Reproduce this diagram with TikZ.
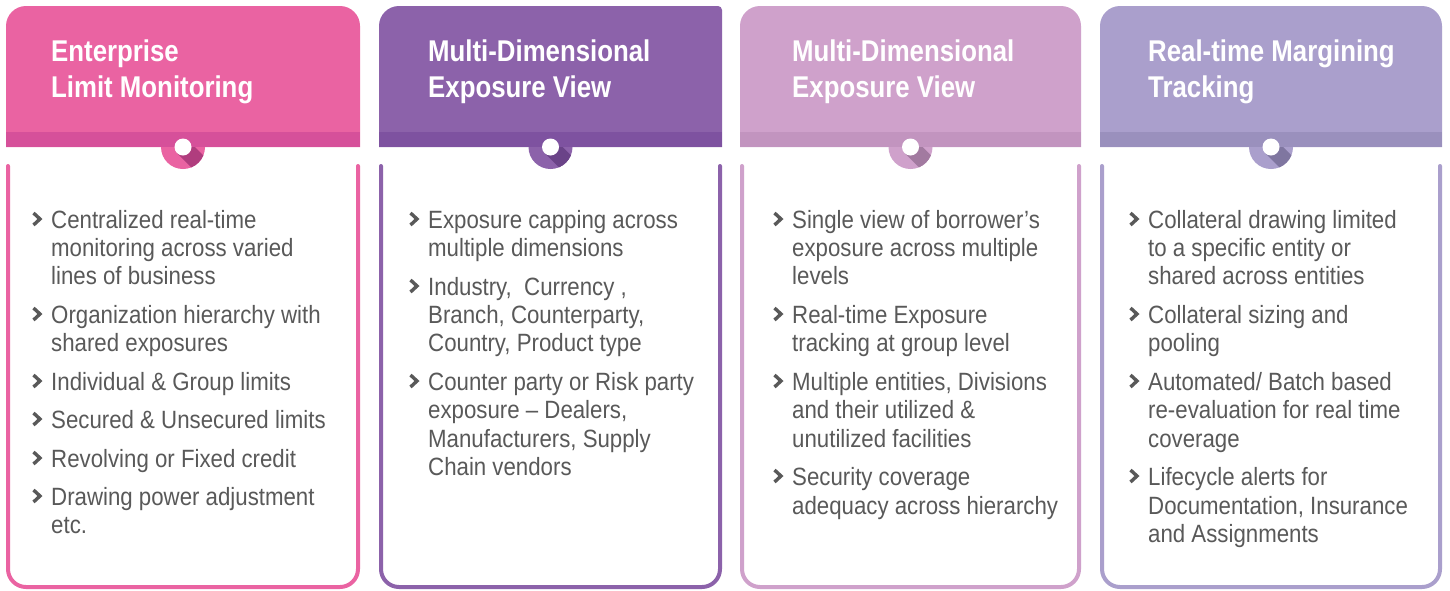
\documentclass[tikz,border=0pt]{standalone}
\usepackage{fontspec}
\setmainfont[FakeStretch=0.89]{Liberation Sans}
\newfontfamily\titlefont[FakeStretch=0.86]{Liberation Sans}
\definecolor{txtgray}{HTML}{595959}
\definecolor{hA}{HTML}{EA63A2}\definecolor{bA}{HTML}{D6509A}\definecolor{sA}{HTML}{B03D7E}
\definecolor{hB}{HTML}{8C62AA}\definecolor{bB}{HTML}{7E52A0}\definecolor{sB}{HTML}{6A4388}
\definecolor{hC}{HTML}{CFA1CB}\definecolor{bC}{HTML}{C294BF}\definecolor{sC}{HTML}{A27AA0}
\definecolor{hD}{HTML}{AA9FCC}\definecolor{bD}{HTML}{9A90BD}\definecolor{sD}{HTML}{7F76A0}
\newcommand\bodyfont{\fontsize{25}{28}\selectfont}
\newcommand\headfont{\titlefont\bfseries\fontsize{30}{36}\selectfont}
% card: left, right, header colour, band colour, shadow colour, top-left radius, top-right radius
\newcommand\mkcard[7]{%
  \pgfmathsetmacro\cx{(#1+#2)/2}%
  \fill[#3] (#1,147) -- (#1,6+#6) arc[start angle=180,end angle=270,radius=#6]
     -- (#2-#7,6) arc[start angle=270,end angle=360,radius=#7] -- (#2,147) -- cycle;
  \fill[#3] (\cx,147) circle[radius=22];
  \begin{scope}
    \clip (\cx,147) circle[radius=22];
    \fill[#5] (\cx+6,141) -- (\cx+46,181) -- (\cx+34,193) -- (\cx-6,153) -- cycle;
  \end{scope}
  \fill[#4] (#1,132) rectangle (#2,147);
  \fill[white] (\cx,147) circle[radius=8.5];
  \draw[#3, line width=4pt, line cap=round, rounded corners=18pt]
     (#1+2,166) -- (#1+2,587) -- (#2-2,587) -- (#2-2,166);
}
\tikzset{
  body/.style={anchor=base west, inner sep=0pt, font=\bodyfont, text=txtgray},
  head/.style={anchor=base west, inner sep=0pt, font=\headfont, text=white},
  bullet/.style={draw=txtgray, line width=3.4pt, line join=miter, line cap=butt},
}
\newcommand\bul[2]{\draw[bullet] (#1-17.5,#2-15) -- ++(6.5,6) -- ++(-6.5,6);}
\begin{document}
\begin{tikzpicture}[x=1pt,y=-1pt]
\useasboundingbox (0,0) rectangle (1450,590);
\fill[white] (0,0) rectangle (1450,590);

\mkcard{6}{360}{hA}{bA}{sA}{20}{20}
\mkcard{379}{722}{hB}{bB}{sB}{20}{4}
\mkcard{740}{1081}{hC}{bC}{sC}{20}{20}
\mkcard{1100}{1442}{hD}{bD}{sD}{20}{20}

% titles
\node[head] (t1a) at (51,61) {Enterprise};
\node[head] (t1b) at (51,97) {Limit Monitoring};
\node[head] (t2a) at (428,61) {Multi-Dimensional};
\node[head] (t2b) at (428,97) {Exposure View};
\node[head] (t3a) at (792,61) {Multi-Dimensional};
\node[head] (t3b) at (792,97) {Exposure View};
\node[head] (t4a) at (1148,61) {Real-time Margining};
\node[head] (t4b) at (1148,97) {Tracking};

% card 1 text
\foreach \yy/\txt [count=\i] in {228/{Centralized real-time},256/{monitoring across varied},284/{lines of business},
  323/{Organization hierarchy with},351/{shared exposures},390/{Individual \& Group limits},
  428/{Secured \& Unsecured limits},467/{Revolving or Fixed credit},505/{Drawing power adjustment},533/{etc.}}
  {\node[body] (a\i) at (51,\yy) {\txt};}
\foreach \by in {228,323,390,428,467,505} {\bul{51}{\by}}

% card 2 text
\foreach \yy/\txt [count=\i] in {228/{Exposure capping across},256/{multiple dimensions},
  295/{Industry,\ \ Currency ,},323/{Branch, Counterparty,},351/{Country, Product type},
  390/{Counter party or Risk party},418/{exposure – Dealers,},447/{Manufacturers, Supply},475/{Chain vendors}}
  {\node[body] (b\i) at (428,\yy) {\txt};}
\foreach \by in {228,295,390} {\bul{428}{\by}}

% card 3 text
\foreach \yy/\txt [count=\i] in {228/{Single view of borrower’s},256/{exposure across multiple},284/{levels},
  323/{Real-time Exposure},351/{tracking at group level},
  390/{Multiple entities, Divisions},418/{and their utilized \&},447/{unutilized facilities},
  485/{Security coverage},514/{adequacy across hierarchy}}
  {\node[body] (c\i) at (792,\yy) {\txt};}
\foreach \by in {228,323,390,485} {\bul{792}{\by}}

% card 4 text
\foreach \yy/\txt [count=\i] in {228/{Collateral drawing limited},256/{to a specific entity or},284/{shared across entities},
  323/{Collateral sizing and},351/{pooling},
  390/{Automated/ Batch based},418/{re-evaluation for real time},447/{coverage},
  485/{Lifecycle alerts for},514/{Documentation, Insurance},542/{and Assignments}}
  {\node[body] (d\i) at (1148,\yy) {\txt};}
\foreach \by in {228,323,390,485} {\bul{1148}{\by}}
\end{tikzpicture}
\end{document}
